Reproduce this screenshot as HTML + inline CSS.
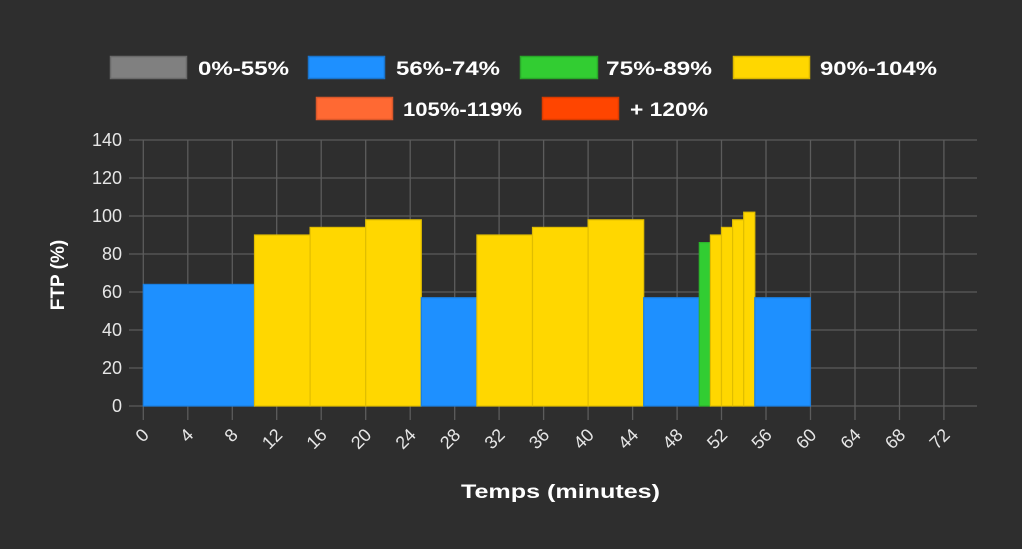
<!DOCTYPE html>
<html><head><meta charset="utf-8"><style>
html,body{margin:0;padding:0;background:#2e2e2e;}
svg{display:block;}
.lg{font-family:"Liberation Sans",sans-serif;font-weight:bold;font-size:19px;fill:#fff;}
.tk{font-family:"Liberation Sans",sans-serif;font-size:18px;fill:#e6e6e6;}
</style></head><body>
<svg width="1022" height="549" viewBox="0 0 1022 549" xmlns="http://www.w3.org/2000/svg">
<rect width="1022" height="549" fill="#2e2e2e"/>
<g stroke-width="1.5">
<rect x="110.5" y="56.5" width="76" height="22" fill="#808080" stroke="#6a6a6a"/>
<rect x="308.5" y="56.5" width="76" height="22" fill="#1e90ff" stroke="#1a74cc"/>
<rect x="520.5" y="56.5" width="77" height="22" fill="#32cd32" stroke="#29a829"/>
<rect x="733.5" y="56.5" width="76" height="22" fill="#ffd700" stroke="#d9b600"/>
<rect x="316.5" y="97.5" width="76" height="22" fill="#ff6933" stroke="#d9582b"/>
<rect x="542.5" y="97.5" width="76" height="22" fill="#ff4500" stroke="#d93b00"/>
</g>
<text class="lg" x="198" y="75" textLength="91" lengthAdjust="spacingAndGlyphs">0%-55%</text>
<text class="lg" x="396" y="75" textLength="104" lengthAdjust="spacingAndGlyphs">56%-74%</text>
<text class="lg" x="606" y="75" textLength="106" lengthAdjust="spacingAndGlyphs">75%-89%</text>
<text class="lg" x="820" y="75" textLength="117" lengthAdjust="spacingAndGlyphs">90%-104%</text>
<text class="lg" x="403" y="116" textLength="119" lengthAdjust="spacingAndGlyphs">105%-119%</text>
<text class="lg" x="630" y="116" textLength="78" lengthAdjust="spacingAndGlyphs">+ 120%</text>
<g stroke="#5c5c5c" stroke-width="1.3">
<line x1="129" y1="140" x2="977" y2="140"/>
<line x1="129" y1="178" x2="977" y2="178"/>
<line x1="129" y1="216" x2="977" y2="216"/>
<line x1="129" y1="254" x2="977" y2="254"/>
<line x1="129" y1="292" x2="977" y2="292"/>
<line x1="129" y1="330" x2="977" y2="330"/>
<line x1="129" y1="368" x2="977" y2="368"/>
<line x1="129" y1="406" x2="977" y2="406"/>
<line x1="143.3" y1="140" x2="143.3" y2="420"/>
<line x1="187.8" y1="140" x2="187.8" y2="420"/>
<line x1="232.3" y1="140" x2="232.3" y2="420"/>
<line x1="276.7" y1="140" x2="276.7" y2="420"/>
<line x1="321.2" y1="140" x2="321.2" y2="420"/>
<line x1="365.7" y1="140" x2="365.7" y2="420"/>
<line x1="410.2" y1="140" x2="410.2" y2="420"/>
<line x1="454.7" y1="140" x2="454.7" y2="420"/>
<line x1="499.1" y1="140" x2="499.1" y2="420"/>
<line x1="543.6" y1="140" x2="543.6" y2="420"/>
<line x1="588.1" y1="140" x2="588.1" y2="420"/>
<line x1="632.6" y1="140" x2="632.6" y2="420"/>
<line x1="677.1" y1="140" x2="677.1" y2="420"/>
<line x1="721.5" y1="140" x2="721.5" y2="420"/>
<line x1="766.0" y1="140" x2="766.0" y2="420"/>
<line x1="810.5" y1="140" x2="810.5" y2="420"/>
<line x1="855.0" y1="140" x2="855.0" y2="420"/>
<line x1="899.5" y1="140" x2="899.5" y2="420"/>
<line x1="943.9" y1="140" x2="943.9" y2="420"/>
</g>
<g stroke-width="1.2">
<rect x="143.3" y="284.4" width="111.2" height="121.6" fill="#1e90ff" stroke="#1a7fe0"/>
<rect x="254.5" y="235" width="55.6" height="171" fill="#ffd700" stroke="#e0bd00"/>
<rect x="310.1" y="227.4" width="55.6" height="178.6" fill="#ffd700" stroke="#e0bd00"/>
<rect x="365.7" y="219.8" width="55.6" height="186.2" fill="#ffd700" stroke="#e0bd00"/>
<rect x="421.3" y="297.7" width="55.6" height="108.3" fill="#1e90ff" stroke="#1a7fe0"/>
<rect x="476.9" y="235" width="55.6" height="171" fill="#ffd700" stroke="#e0bd00"/>
<rect x="532.5" y="227.4" width="55.6" height="178.6" fill="#ffd700" stroke="#e0bd00"/>
<rect x="588.1" y="219.8" width="55.6" height="186.2" fill="#ffd700" stroke="#e0bd00"/>
<rect x="643.7" y="297.7" width="55.6" height="108.3" fill="#1e90ff" stroke="#1a7fe0"/>
<rect x="699.3" y="242.6" width="11.1" height="163.4" fill="#32cd32" stroke="#2bb52b"/>
<rect x="710.4" y="235" width="11.1" height="171" fill="#ffd700" stroke="#e0bd00"/>
<rect x="721.5" y="227.4" width="11.1" height="178.6" fill="#ffd700" stroke="#e0bd00"/>
<rect x="732.6" y="219.8" width="11.1" height="186.2" fill="#ffd700" stroke="#e0bd00"/>
<rect x="743.7" y="212.2" width="11.1" height="193.8" fill="#ffd700" stroke="#e0bd00"/>
<rect x="754.8" y="297.7" width="55.6" height="108.3" fill="#1e90ff" stroke="#1a7fe0"/>
</g>
<g class="tk" text-anchor="end">
<text x="122" y="146">140</text>
<text x="122" y="184">120</text>
<text x="122" y="222">100</text>
<text x="122" y="260">80</text>
<text x="122" y="298">60</text>
<text x="122" y="336">40</text>
<text x="122" y="374">20</text>
<text x="122" y="412">0</text>
</g>
<text class="lg" transform="translate(64,275) rotate(-90)" text-anchor="middle" font-size="19">FTP (%)</text>
<g class="tk" text-anchor="end">
<text transform="translate(150,436) rotate(-45)">0</text>
<text transform="translate(194.5,436) rotate(-45)">4</text>
<text transform="translate(239,436) rotate(-45)">8</text>
<text transform="translate(283.5,436) rotate(-45)">12</text>
<text transform="translate(328,436) rotate(-45)">16</text>
<text transform="translate(372.5,436) rotate(-45)">20</text>
<text transform="translate(417,436) rotate(-45)">24</text>
<text transform="translate(461.5,436) rotate(-45)">28</text>
<text transform="translate(506,436) rotate(-45)">32</text>
<text transform="translate(550.5,436) rotate(-45)">36</text>
<text transform="translate(595,436) rotate(-45)">40</text>
<text transform="translate(639.5,436) rotate(-45)">44</text>
<text transform="translate(684,436) rotate(-45)">48</text>
<text transform="translate(728.5,436) rotate(-45)">52</text>
<text transform="translate(773,436) rotate(-45)">56</text>
<text transform="translate(817.5,436) rotate(-45)">60</text>
<text transform="translate(862,436) rotate(-45)">64</text>
<text transform="translate(906.5,436) rotate(-45)">68</text>
<text transform="translate(951,436) rotate(-45)">72</text>
</g>
<text class="lg" x="461" y="498" textLength="199" lengthAdjust="spacingAndGlyphs">Temps (minutes)</text>
</svg>
</body></html>
